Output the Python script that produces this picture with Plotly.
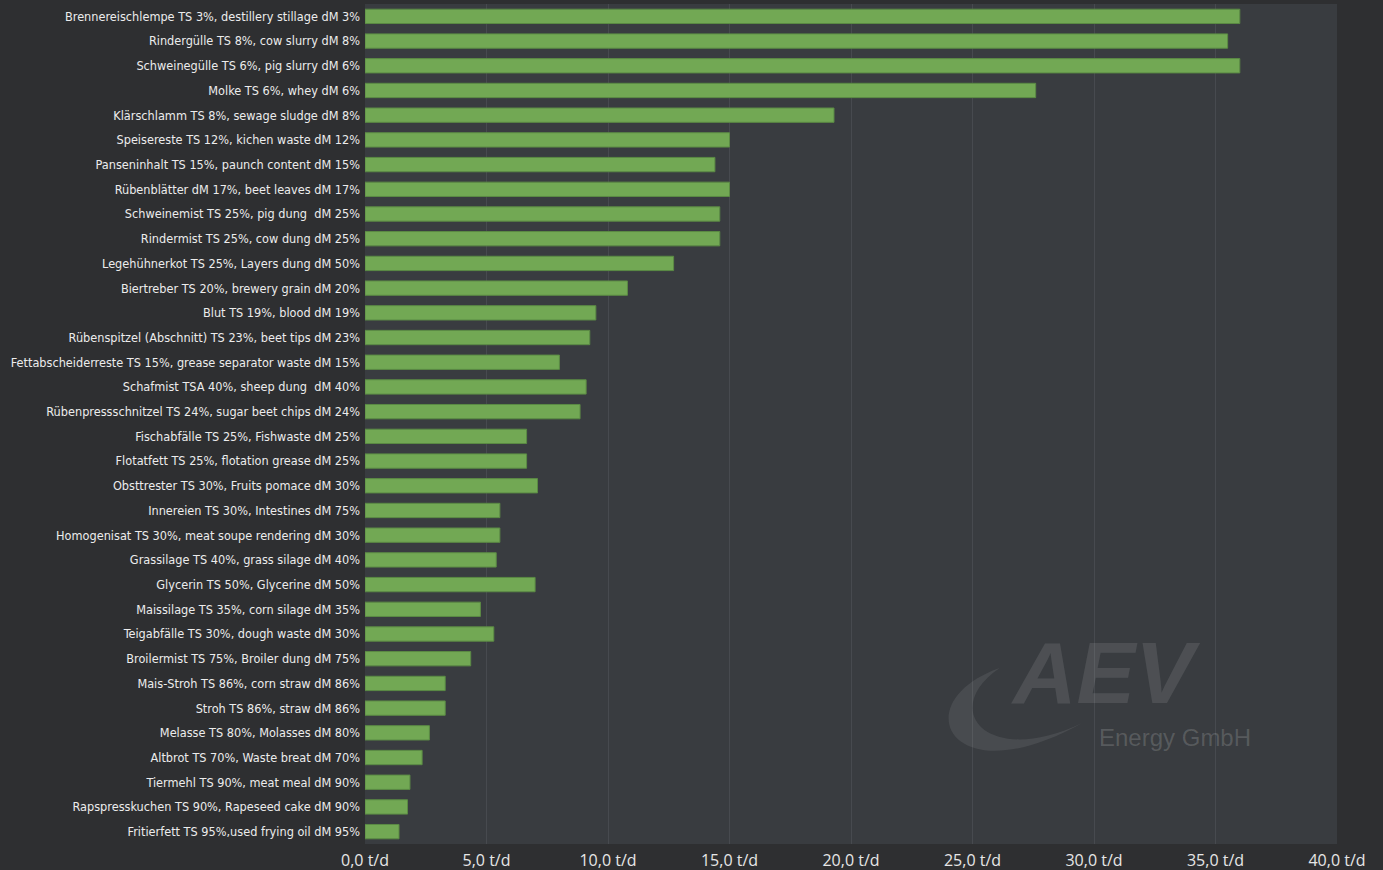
import plotly.graph_objects as go

categories = [
    "Brennereischlempe TS 3%, destillery stillage dM 3%",
    "Rindergülle TS 8%, cow slurry dM 8%",
    "Schweinegülle TS 6%, pig slurry dM 6%",
    "Molke TS 6%, whey dM 6%",
    "Klärschlamm TS 8%, sewage sludge dM 8%",
    "Speisereste TS 12%, kichen waste dM 12%",
    "Panseninhalt TS 15%, paunch content dM 15%",
    "Rübenblätter dM 17%, beet leaves dM 17%",
    "Schweinemist TS 25%, pig dung  dM 25%",
    "Rindermist TS 25%, cow dung dM 25%",
    "Legehühnerkot TS 25%, Layers dung dM 50%",
    "Biertreber TS 20%, brewery grain dM 20%",
    "Blut TS 19%, blood dM 19%",
    "Rübenspitzel (Abschnitt) TS 23%, beet tips dM 23%",
    "Fettabscheiderreste TS 15%, grease separator waste dM 15%",
    "Schafmist TSA 40%, sheep dung  dM 40%",
    "Rübenpressschnitzel TS 24%, sugar beet chips dM 24%",
    "Fischabfälle TS 25%, Fishwaste dM 25%",
    "Flotatfett TS 25%, flotation grease dM 25%",
    "Obsttrester TS 30%, Fruits pomace dM 30%",
    "Innereien TS 30%, Intestines dM 75%",
    "Homogenisat TS 30%, meat soupe rendering dM 30%",
    "Grassilage TS 40%, grass silage dM 40%",
    "Glycerin TS 50%, Glycerine dM 50%",
    "Maissilage TS 35%, corn silage dM 35%",
    "Teigabfälle TS 30%, dough waste dM 30%",
    "Broilermist TS 75%, Broiler dung dM 75%",
    "Mais-Stroh TS 86%, corn straw dM 86%",
    "Stroh TS 86%, straw dM 86%",
    "Melasse TS 80%, Molasses dM 80%",
    "Altbrot TS 70%, Waste breat dM 70%",
    "Tiermehl TS 90%, meat meal dM 90%",
    "Rapspresskuchen TS 90%, Rapeseed cake dM 90%",
    "Fritierfett TS 95%,used frying oil dM 95%",
]

values = [
    36.0, 35.5, 36.0, 27.6, 19.3, 15.0, 14.4, 15.0, 14.6, 14.6,
    12.7, 10.8, 9.5, 9.25, 8.0, 9.1, 8.85, 6.65, 6.65, 7.1,
    5.55, 5.55, 5.4, 7.0, 4.75, 5.3, 4.35, 3.3, 3.3, 2.65,
    2.35, 1.85, 1.75, 1.4,
]

tick_values = [0, 5, 10, 15, 20, 25, 30, 35, 40]
tick_labels = ["0,0 t/d", "5,0 t/d", "10,0 t/d", "15,0 t/d", "20,0 t/d",
               "25,0 t/d", "30,0 t/d", "35,0 t/d", "40,0 t/d"]

fig = go.Figure(
    go.Bar(
        x=values,
        y=categories,
        orientation="h",
        marker=dict(color="#72a854", line=dict(color="#5b8a44", width=1)),
        hoverinfo="x+y",
    )
)

fig.update_layout(
    width=1383,
    height=870,
    paper_bgcolor="#2e2f31",
    plot_bgcolor="#393c40",
    margin=dict(l=365, r=46, t=4, b=26),
    bargap=0.42,
    showlegend=False,
    font=dict(family="DejaVu Sans Condensed", color="#e6e6e6"),
)

fig.update_xaxes(
    range=[0, 40],
    tickvals=tick_values,
    ticktext=tick_labels,
    showgrid=True,
    gridcolor="#474a4f",
    gridwidth=1,
    zeroline=False,
    showline=False,
    ticks="",
    automargin=False,
    ticklabelstandoff=5,
    tickfont=dict(family="Open Sans, Noto Sans", size=16, color="#e6e6e6"),
    fixedrange=True,
)

fig.update_yaxes(
    type="category",
    autorange="reversed",
    showgrid=False,
    zeroline=False,
    showline=False,
    ticks="",
    automargin=False,
    ticklabelstandoff=4,
    tickfont=dict(family="DejaVu Sans Condensed", size=12.6, color="#ececec"),
    fixedrange=True,
)

# Watermark logo (decoration)
fig.add_annotation(
    xref="paper", yref="paper", x=0.762, y=0.143, xanchor="center", yanchor="bottom",
    text="<b><i>AEV</i></b>", showarrow=False,
    font=dict(family="Liberation Sans, Arial", size=88, color="rgba(255,255,255,0.10)"),
)
fig.add_annotation(
    xref="paper", yref="paper", x=0.753, y=0.127, xanchor="left", yanchor="middle",
    text="Energy GmbH", showarrow=False,
    font=dict(family="Liberation Sans, Arial", size=24, color="rgba(255,255,255,0.16)"),
)
fig.add_shape(
    type="path", xref="paper", yref="paper",
    path="M 0.653 0.2095 C 0.555 0.17 0.60 0.055 0.738 0.144 C 0.64 0.09 0.59 0.16 0.653 0.2095 Z",
    fillcolor="rgba(255,255,255,0.08)", line=dict(width=0), layer="above",
)

fig.write_html("out.html", config={"displayModeBar": False},
               post_script="document.body.style.margin='0';")
